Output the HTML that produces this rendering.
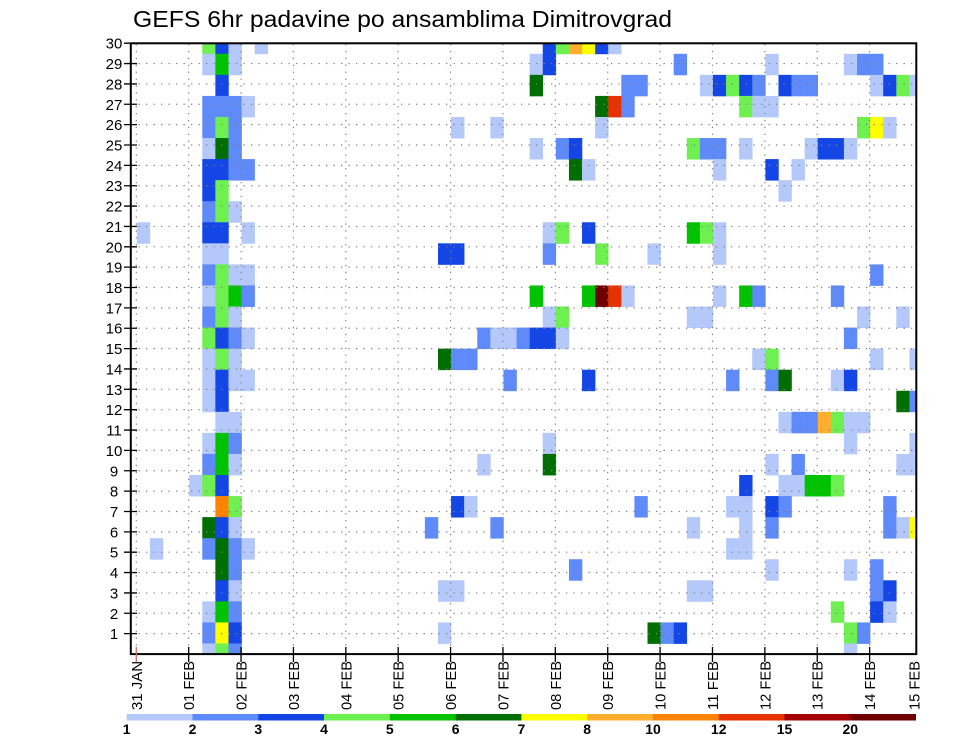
<!DOCTYPE html>
<html><head><meta charset="utf-8"><style>
html,body{margin:0;padding:0;background:#fff;}
svg{display:block;}
.a{fill:#b4c8fa}.b{fill:#5f8afa}.c{fill:#1446e6}.d{fill:#6ef050}.e{fill:#00c300}.f{fill:#006e00}
.g{fill:#ffff00}.h{fill:#ffaf2d}.i{fill:#ff8200}.j{fill:#e63200}.k{fill:#a50000}.l{fill:#6e0000}
text{font-family:"Liberation Sans",Arial,sans-serif;fill:#000;}
</style></head><body>
<svg width="960" height="742" viewBox="0 0 960 742" xmlns="http://www.w3.org/2000/svg">
<defs><clipPath id="pc"><rect x="131.5" y="43.3" width="784.5" height="610.7"/></clipPath></defs>
<rect width="960" height="742" fill="#fff"/>
<text x="133" y="27" font-size="23" textLength="539" lengthAdjust="spacingAndGlyphs">GEFS 6hr padavine po ansamblima Dimitrovgrad</text>

<g clip-path="url(#pc)">
<g transform="translate(136.8 643.47) scale(13.095 21.06)">
<!-- R29 -->
<rect class="d" x="5" y="-29" width="1.02" height="1.02"/><rect class="c" x="6" y="-29" width="1.02" height="1.02"/><rect class="a" x="7" y="-29" width="1.02" height="1.02"/><rect class="a" x="9" y="-29" width="1.02" height="1.02"/><rect class="c" x="31" y="-29" width="1.02" height="1.02"/><rect class="d" x="32" y="-29" width="1.02" height="1.02"/><rect class="h" x="33" y="-29" width="1.02" height="1.02"/><rect class="g" x="34" y="-29" width="1.02" height="1.02"/><rect class="c" x="35" y="-29" width="1.02" height="1.02"/><rect class="a" x="36" y="-29" width="1.02" height="1.02"/>
<!-- R28 -->
<rect class="a" x="5" y="-28" width="1.02" height="1.02"/><rect class="e" x="6" y="-28" width="1.02" height="1.02"/><rect class="a" x="7" y="-28" width="1.02" height="1.02"/><rect class="a" x="30" y="-28" width="1.02" height="1.02"/><rect class="c" x="31" y="-28" width="1.02" height="1.02"/><rect class="b" x="41" y="-28" width="1.02" height="1.02"/><rect class="a" x="48" y="-28" width="1.02" height="1.02"/><rect class="a" x="54" y="-28" width="1.02" height="1.02"/><rect class="b" x="55" y="-28" width="1.02" height="1.02"/><rect class="b" x="56" y="-28" width="1.02" height="1.02"/>
<!-- R27 -->
<rect class="c" x="6" y="-27" width="1.02" height="1.02"/><rect class="f" x="30" y="-27" width="1.02" height="1.02"/><rect class="b" x="37" y="-27" width="1.02" height="1.02"/><rect class="b" x="38" y="-27" width="1.02" height="1.02"/><rect class="a" x="43" y="-27" width="1.02" height="1.02"/><rect class="c" x="44" y="-27" width="1.02" height="1.02"/><rect class="d" x="45" y="-27" width="1.02" height="1.02"/><rect class="c" x="46" y="-27" width="1.02" height="1.02"/><rect class="b" x="47" y="-27" width="1.02" height="1.02"/><rect class="c" x="49" y="-27" width="1.02" height="1.02"/><rect class="b" x="50" y="-27" width="1.02" height="1.02"/><rect class="b" x="51" y="-27" width="1.02" height="1.02"/><rect class="a" x="56" y="-27" width="1.02" height="1.02"/><rect class="c" x="57" y="-27" width="1.02" height="1.02"/><rect class="d" x="58" y="-27" width="1.02" height="1.02"/><rect class="a" x="59" y="-27" width="1.02" height="1.02"/>
<!-- R26 -->
<rect class="b" x="5" y="-26" width="1.02" height="1.02"/><rect class="b" x="6" y="-26" width="1.02" height="1.02"/><rect class="b" x="7" y="-26" width="1.02" height="1.02"/><rect class="a" x="8" y="-26" width="1.02" height="1.02"/><rect class="f" x="35" y="-26" width="1.02" height="1.02"/><rect class="j" x="36" y="-26" width="1.02" height="1.02"/><rect class="b" x="37" y="-26" width="1.02" height="1.02"/><rect class="d" x="46" y="-26" width="1.02" height="1.02"/><rect class="a" x="47" y="-26" width="1.02" height="1.02"/><rect class="a" x="48" y="-26" width="1.02" height="1.02"/>
<!-- R25 -->
<rect class="b" x="5" y="-25" width="1.02" height="1.02"/><rect class="d" x="6" y="-25" width="1.02" height="1.02"/><rect class="b" x="7" y="-25" width="1.02" height="1.02"/><rect class="a" x="24" y="-25" width="1.02" height="1.02"/><rect class="a" x="27" y="-25" width="1.02" height="1.02"/><rect class="a" x="35" y="-25" width="1.02" height="1.02"/><rect class="d" x="55" y="-25" width="1.02" height="1.02"/><rect class="g" x="56" y="-25" width="1.02" height="1.02"/><rect class="a" x="57" y="-25" width="1.02" height="1.02"/>
<!-- R24 -->
<rect class="a" x="5" y="-24" width="1.02" height="1.02"/><rect class="f" x="6" y="-24" width="1.02" height="1.02"/><rect class="b" x="7" y="-24" width="1.02" height="1.02"/><rect class="a" x="30" y="-24" width="1.02" height="1.02"/><rect class="b" x="32" y="-24" width="1.02" height="1.02"/><rect class="c" x="33" y="-24" width="1.02" height="1.02"/><rect class="d" x="42" y="-24" width="1.02" height="1.02"/><rect class="b" x="43" y="-24" width="1.02" height="1.02"/><rect class="b" x="44" y="-24" width="1.02" height="1.02"/><rect class="a" x="46" y="-24" width="1.02" height="1.02"/><rect class="a" x="51" y="-24" width="1.02" height="1.02"/><rect class="c" x="52" y="-24" width="1.02" height="1.02"/><rect class="c" x="53" y="-24" width="1.02" height="1.02"/><rect class="a" x="54" y="-24" width="1.02" height="1.02"/>
<!-- R23 -->
<rect class="c" x="5" y="-23" width="1.02" height="1.02"/><rect class="c" x="6" y="-23" width="1.02" height="1.02"/><rect class="b" x="7" y="-23" width="1.02" height="1.02"/><rect class="b" x="8" y="-23" width="1.02" height="1.02"/><rect class="f" x="33" y="-23" width="1.02" height="1.02"/><rect class="a" x="34" y="-23" width="1.02" height="1.02"/><rect class="a" x="44" y="-23" width="1.02" height="1.02"/><rect class="c" x="48" y="-23" width="1.02" height="1.02"/><rect class="a" x="50" y="-23" width="1.02" height="1.02"/>
<!-- R22 -->
<rect class="c" x="5" y="-22" width="1.02" height="1.02"/><rect class="d" x="6" y="-22" width="1.02" height="1.02"/><rect class="a" x="49" y="-22" width="1.02" height="1.02"/>
<!-- R21 -->
<rect class="b" x="5" y="-21" width="1.02" height="1.02"/><rect class="d" x="6" y="-21" width="1.02" height="1.02"/><rect class="a" x="7" y="-21" width="1.02" height="1.02"/>
<!-- R20 -->
<rect class="a" x="0" y="-20" width="1.02" height="1.02"/><rect class="c" x="5" y="-20" width="1.02" height="1.02"/><rect class="c" x="6" y="-20" width="1.02" height="1.02"/><rect class="a" x="8" y="-20" width="1.02" height="1.02"/><rect class="a" x="31" y="-20" width="1.02" height="1.02"/><rect class="d" x="32" y="-20" width="1.02" height="1.02"/><rect class="c" x="34" y="-20" width="1.02" height="1.02"/><rect class="e" x="42" y="-20" width="1.02" height="1.02"/><rect class="d" x="43" y="-20" width="1.02" height="1.02"/><rect class="a" x="44" y="-20" width="1.02" height="1.02"/>
<!-- R19 -->
<rect class="a" x="5" y="-19" width="1.02" height="1.02"/><rect class="a" x="6" y="-19" width="1.02" height="1.02"/><rect class="c" x="23" y="-19" width="1.02" height="1.02"/><rect class="c" x="24" y="-19" width="1.02" height="1.02"/><rect class="b" x="31" y="-19" width="1.02" height="1.02"/><rect class="d" x="35" y="-19" width="1.02" height="1.02"/><rect class="a" x="39" y="-19" width="1.02" height="1.02"/><rect class="a" x="44" y="-19" width="1.02" height="1.02"/>
<!-- R18 -->
<rect class="b" x="5" y="-18" width="1.02" height="1.02"/><rect class="d" x="6" y="-18" width="1.02" height="1.02"/><rect class="a" x="7" y="-18" width="1.02" height="1.02"/><rect class="a" x="8" y="-18" width="1.02" height="1.02"/><rect class="b" x="56" y="-18" width="1.02" height="1.02"/>
<!-- R17 -->
<rect class="a" x="5" y="-17" width="1.02" height="1.02"/><rect class="d" x="6" y="-17" width="1.02" height="1.02"/><rect class="e" x="7" y="-17" width="1.02" height="1.02"/><rect class="b" x="8" y="-17" width="1.02" height="1.02"/><rect class="e" x="30" y="-17" width="1.02" height="1.02"/><rect class="e" x="34" y="-17" width="1.02" height="1.02"/><rect class="l" x="35" y="-17" width="1.02" height="1.02"/><rect class="j" x="36" y="-17" width="1.02" height="1.02"/><rect class="a" x="37" y="-17" width="1.02" height="1.02"/><rect class="a" x="44" y="-17" width="1.02" height="1.02"/><rect class="e" x="46" y="-17" width="1.02" height="1.02"/><rect class="b" x="47" y="-17" width="1.02" height="1.02"/><rect class="b" x="53" y="-17" width="1.02" height="1.02"/>
<!-- R16 -->
<rect class="b" x="5" y="-16" width="1.02" height="1.02"/><rect class="d" x="6" y="-16" width="1.02" height="1.02"/><rect class="a" x="7" y="-16" width="1.02" height="1.02"/><rect class="a" x="31" y="-16" width="1.02" height="1.02"/><rect class="d" x="32" y="-16" width="1.02" height="1.02"/><rect class="a" x="42" y="-16" width="1.02" height="1.02"/><rect class="a" x="43" y="-16" width="1.02" height="1.02"/><rect class="a" x="55" y="-16" width="1.02" height="1.02"/><rect class="a" x="58" y="-16" width="1.02" height="1.02"/>
<!-- R15 -->
<rect class="d" x="5" y="-15" width="1.02" height="1.02"/><rect class="c" x="6" y="-15" width="1.02" height="1.02"/><rect class="b" x="7" y="-15" width="1.02" height="1.02"/><rect class="a" x="8" y="-15" width="1.02" height="1.02"/><rect class="b" x="26" y="-15" width="1.02" height="1.02"/><rect class="a" x="27" y="-15" width="1.02" height="1.02"/><rect class="a" x="28" y="-15" width="1.02" height="1.02"/><rect class="b" x="29" y="-15" width="1.02" height="1.02"/><rect class="c" x="30" y="-15" width="1.02" height="1.02"/><rect class="c" x="31" y="-15" width="1.02" height="1.02"/><rect class="a" x="32" y="-15" width="1.02" height="1.02"/><rect class="b" x="54" y="-15" width="1.02" height="1.02"/>
<!-- R14 -->
<rect class="a" x="5" y="-14" width="1.02" height="1.02"/><rect class="d" x="6" y="-14" width="1.02" height="1.02"/><rect class="a" x="7" y="-14" width="1.02" height="1.02"/><rect class="f" x="23" y="-14" width="1.02" height="1.02"/><rect class="b" x="24" y="-14" width="1.02" height="1.02"/><rect class="b" x="25" y="-14" width="1.02" height="1.02"/><rect class="a" x="47" y="-14" width="1.02" height="1.02"/><rect class="d" x="48" y="-14" width="1.02" height="1.02"/><rect class="a" x="56" y="-14" width="1.02" height="1.02"/><rect class="a" x="59" y="-14" width="1.02" height="1.02"/>
<!-- R13 -->
<rect class="a" x="5" y="-13" width="1.02" height="1.02"/><rect class="c" x="6" y="-13" width="1.02" height="1.02"/><rect class="a" x="7" y="-13" width="1.02" height="1.02"/><rect class="a" x="8" y="-13" width="1.02" height="1.02"/><rect class="b" x="28" y="-13" width="1.02" height="1.02"/><rect class="c" x="34" y="-13" width="1.02" height="1.02"/><rect class="b" x="45" y="-13" width="1.02" height="1.02"/><rect class="b" x="48" y="-13" width="1.02" height="1.02"/><rect class="f" x="49" y="-13" width="1.02" height="1.02"/><rect class="a" x="53" y="-13" width="1.02" height="1.02"/><rect class="c" x="54" y="-13" width="1.02" height="1.02"/>
<!-- R12 -->
<rect class="a" x="5" y="-12" width="1.02" height="1.02"/><rect class="c" x="6" y="-12" width="1.02" height="1.02"/><rect class="f" x="58" y="-12" width="1.02" height="1.02"/><rect class="b" x="59" y="-12" width="1.02" height="1.02"/>
<!-- R11 -->
<rect class="a" x="6" y="-11" width="1.02" height="1.02"/><rect class="a" x="7" y="-11" width="1.02" height="1.02"/><rect class="a" x="49" y="-11" width="1.02" height="1.02"/><rect class="b" x="50" y="-11" width="1.02" height="1.02"/><rect class="b" x="51" y="-11" width="1.02" height="1.02"/><rect class="h" x="52" y="-11" width="1.02" height="1.02"/><rect class="d" x="53" y="-11" width="1.02" height="1.02"/><rect class="a" x="54" y="-11" width="1.02" height="1.02"/><rect class="a" x="55" y="-11" width="1.02" height="1.02"/>
<!-- R10 -->
<rect class="a" x="5" y="-10" width="1.02" height="1.02"/><rect class="e" x="6" y="-10" width="1.02" height="1.02"/><rect class="b" x="7" y="-10" width="1.02" height="1.02"/><rect class="a" x="31" y="-10" width="1.02" height="1.02"/><rect class="a" x="54" y="-10" width="1.02" height="1.02"/><rect class="a" x="59" y="-10" width="1.02" height="1.02"/>
<!-- R9 -->
<rect class="b" x="5" y="-9" width="1.02" height="1.02"/><rect class="e" x="6" y="-9" width="1.02" height="1.02"/><rect class="a" x="7" y="-9" width="1.02" height="1.02"/><rect class="a" x="26" y="-9" width="1.02" height="1.02"/><rect class="f" x="31" y="-9" width="1.02" height="1.02"/><rect class="a" x="48" y="-9" width="1.02" height="1.02"/><rect class="b" x="50" y="-9" width="1.02" height="1.02"/><rect class="a" x="58" y="-9" width="1.02" height="1.02"/><rect class="a" x="59" y="-9" width="1.02" height="1.02"/>
<!-- R8 -->
<rect class="a" x="4" y="-8" width="1.02" height="1.02"/><rect class="d" x="5" y="-8" width="1.02" height="1.02"/><rect class="c" x="6" y="-8" width="1.02" height="1.02"/><rect class="c" x="46" y="-8" width="1.02" height="1.02"/><rect class="a" x="49" y="-8" width="1.02" height="1.02"/><rect class="a" x="50" y="-8" width="1.02" height="1.02"/><rect class="e" x="51" y="-8" width="1.02" height="1.02"/><rect class="e" x="52" y="-8" width="1.02" height="1.02"/><rect class="d" x="53" y="-8" width="1.02" height="1.02"/>
<!-- R7 -->
<rect class="i" x="6" y="-7" width="1.02" height="1.02"/><rect class="d" x="7" y="-7" width="1.02" height="1.02"/><rect class="c" x="24" y="-7" width="1.02" height="1.02"/><rect class="a" x="25" y="-7" width="1.02" height="1.02"/><rect class="b" x="38" y="-7" width="1.02" height="1.02"/><rect class="a" x="45" y="-7" width="1.02" height="1.02"/><rect class="a" x="46" y="-7" width="1.02" height="1.02"/><rect class="c" x="48" y="-7" width="1.02" height="1.02"/><rect class="b" x="49" y="-7" width="1.02" height="1.02"/><rect class="b" x="57" y="-7" width="1.02" height="1.02"/>
<!-- R6 -->
<rect class="f" x="5" y="-6" width="1.02" height="1.02"/><rect class="c" x="6" y="-6" width="1.02" height="1.02"/><rect class="a" x="7" y="-6" width="1.02" height="1.02"/><rect class="b" x="22" y="-6" width="1.02" height="1.02"/><rect class="b" x="27" y="-6" width="1.02" height="1.02"/><rect class="a" x="42" y="-6" width="1.02" height="1.02"/><rect class="a" x="46" y="-6" width="1.02" height="1.02"/><rect class="b" x="48" y="-6" width="1.02" height="1.02"/><rect class="b" x="57" y="-6" width="1.02" height="1.02"/><rect class="a" x="58" y="-6" width="1.02" height="1.02"/><rect class="g" x="59" y="-6" width="1.02" height="1.02"/>
<!-- R5 -->
<rect class="a" x="1" y="-5" width="1.02" height="1.02"/><rect class="b" x="5" y="-5" width="1.02" height="1.02"/><rect class="f" x="6" y="-5" width="1.02" height="1.02"/><rect class="b" x="7" y="-5" width="1.02" height="1.02"/><rect class="a" x="8" y="-5" width="1.02" height="1.02"/><rect class="a" x="45" y="-5" width="1.02" height="1.02"/><rect class="a" x="46" y="-5" width="1.02" height="1.02"/>
<!-- R4 -->
<rect class="f" x="6" y="-4" width="1.02" height="1.02"/><rect class="b" x="7" y="-4" width="1.02" height="1.02"/><rect class="b" x="33" y="-4" width="1.02" height="1.02"/><rect class="a" x="48" y="-4" width="1.02" height="1.02"/><rect class="a" x="54" y="-4" width="1.02" height="1.02"/><rect class="b" x="56" y="-4" width="1.02" height="1.02"/>
<!-- R3 -->
<rect class="c" x="6" y="-3" width="1.02" height="1.02"/><rect class="a" x="7" y="-3" width="1.02" height="1.02"/><rect class="a" x="23" y="-3" width="1.02" height="1.02"/><rect class="a" x="24" y="-3" width="1.02" height="1.02"/><rect class="a" x="42" y="-3" width="1.02" height="1.02"/><rect class="a" x="43" y="-3" width="1.02" height="1.02"/><rect class="b" x="56" y="-3" width="1.02" height="1.02"/><rect class="c" x="57" y="-3" width="1.02" height="1.02"/>
<!-- R2 -->
<rect class="a" x="5" y="-2" width="1.02" height="1.02"/><rect class="e" x="6" y="-2" width="1.02" height="1.02"/><rect class="b" x="7" y="-2" width="1.02" height="1.02"/><rect class="d" x="53" y="-2" width="1.02" height="1.02"/><rect class="c" x="56" y="-2" width="1.02" height="1.02"/><rect class="a" x="57" y="-2" width="1.02" height="1.02"/>
<!-- R1 -->
<rect class="b" x="5" y="-1" width="1.02" height="1.02"/><rect class="g" x="6" y="-1" width="1.02" height="1.02"/><rect class="c" x="7" y="-1" width="1.02" height="1.02"/><rect class="a" x="23" y="-1" width="1.02" height="1.02"/><rect class="f" x="39" y="-1" width="1.02" height="1.02"/><rect class="b" x="40" y="-1" width="1.02" height="1.02"/><rect class="c" x="41" y="-1" width="1.02" height="1.02"/><rect class="d" x="54" y="-1" width="1.02" height="1.02"/><rect class="b" x="55" y="-1" width="1.02" height="1.02"/>
<!-- R0 -->
<rect class="a" x="5" y="0" width="1.02" height="1.02"/><rect class="d" x="6" y="0" width="1.02" height="1.02"/><rect class="b" x="7" y="0" width="1.02" height="1.02"/><rect class="a" x="54" y="0" width="1.02" height="1.02"/>
</g>

<!-- dotted grid -->
<path fill="none" stroke="#808080" stroke-width="1.2" stroke-dasharray="1.3 6.2" d="
M131 633.64H916 M131 613.28H916 M131 592.92H916 M131 572.56H916 M131 552.2H916 M131 531.84H916 M131 511.48H916 M131 491.12H916 M131 470.76H916 M131 450.4H916
M131 430.04H916 M131 409.68H916 M131 389.32H916 M131 368.96H916 M131 348.6H916 M131 328.24H916 M131 307.88H916 M131 287.52H916 M131 267.16H916 M131 246.8H916
M131 226.44H916 M131 206.08H916 M131 185.72H916 M131 165.36H916 M131 145H916 M131 124.64H916 M131 104.28H916 M131 83.92H916 M131 63.56H916"/>
<path fill="none" stroke="#808080" stroke-width="1.2" stroke-dasharray="1.3 5.6" d="
M136.3 44V654 M188.68 44V654 M241.06 44V654 M293.44 44V654 M345.82 44V654 M398.2 44V654 M450.58 44V654 M502.96 44V654
M555.34 44V654 M607.72 44V654 M660.1 44V654 M712.48 44V654 M764.86 44V654 M817.24 44V654 M869.62 44V654"/>
</g>

<!-- frame -->
<rect x="130.8" y="43.3" width="785.5" height="610.8" fill="none" stroke="#000" stroke-width="2"/>

<!-- y ticks -->
<path fill="none" stroke="#000" stroke-width="1.3" d="
M124 633.64H137 M124 613.28H137 M124 592.92H137 M124 572.56H137 M124 552.2H137 M124 531.84H137 M124 511.48H137 M124 491.12H137 M124 470.76H137 M124 450.4H137
M124 430.04H137 M124 409.68H137 M124 389.32H137 M124 368.96H137 M124 348.6H137 M124 328.24H137 M124 307.88H137 M124 287.52H137 M124 267.16H137 M124 246.8H137
M124 226.44H137 M124 206.08H137 M124 185.72H137 M124 165.36H137 M124 145H137 M124 124.64H137 M124 104.28H137 M124 83.92H137 M124 63.56H137 M124 43.2H137"/>
<!-- x ticks -->
<path fill="none" stroke="#000" stroke-width="1.3" d="
M188.68 647V662 M241.06 647V662 M293.44 647V662 M345.82 647V662 M398.2 647V662 M450.58 647V662 M502.96 647V662
M555.34 647V662 M607.72 647V662 M660.1 647V662 M712.48 647V662 M764.86 647V662 M817.24 647V662 M869.62 647V662"/>
<path fill="none" stroke="#d07070" stroke-width="1.3" d="M136.3 647V662"/>

<!-- y labels -->
<g font-size="15" text-anchor="middle">
<text x="114" y="639.1">1</text><text x="114" y="618.8">2</text><text x="114" y="598.4">3</text><text x="114" y="578.1">4</text><text x="114" y="557.7">5</text>
<text x="114" y="537.3">6</text><text x="114" y="517">7</text><text x="114" y="496.6">8</text><text x="114" y="476.3">9</text><text x="114" y="455.9">10</text>
<text x="114" y="435.5">11</text><text x="114" y="415.2">12</text><text x="114" y="394.8">13</text><text x="114" y="374.5">14</text><text x="114" y="354.1">15</text>
<text x="114" y="333.7">16</text><text x="114" y="313.4">17</text><text x="114" y="293">18</text><text x="114" y="272.7">19</text><text x="114" y="252.3">20</text>
<text x="114" y="231.9">21</text><text x="114" y="211.6">22</text><text x="114" y="191.2">23</text><text x="114" y="170.9">24</text><text x="114" y="150.5">25</text>
<text x="114" y="130.1">26</text><text x="114" y="109.8">27</text><text x="114" y="89.4">28</text><text x="114" y="69.1">29</text><text x="114" y="48.7">30</text>
</g>

<!-- x labels -->
<g font-size="15" text-anchor="end">
<text transform="translate(141.8 661) rotate(-90)" textLength="49" lengthAdjust="spacingAndGlyphs">31 JAN</text>
<text transform="translate(194.2 661) rotate(-90)" textLength="49" lengthAdjust="spacingAndGlyphs">01 FEB</text>
<text transform="translate(246.6 661) rotate(-90)" textLength="49" lengthAdjust="spacingAndGlyphs">02 FEB</text>
<text transform="translate(298.9 661) rotate(-90)" textLength="49" lengthAdjust="spacingAndGlyphs">03 FEB</text>
<text transform="translate(351.3 661) rotate(-90)" textLength="49" lengthAdjust="spacingAndGlyphs">04 FEB</text>
<text transform="translate(403.7 661) rotate(-90)" textLength="49" lengthAdjust="spacingAndGlyphs">05 FEB</text>
<text transform="translate(456.1 661) rotate(-90)" textLength="49" lengthAdjust="spacingAndGlyphs">06 FEB</text>
<text transform="translate(508.5 661) rotate(-90)" textLength="49" lengthAdjust="spacingAndGlyphs">07 FEB</text>
<text transform="translate(560.8 661) rotate(-90)" textLength="49" lengthAdjust="spacingAndGlyphs">08 FEB</text>
<text transform="translate(613.2 661) rotate(-90)" textLength="49" lengthAdjust="spacingAndGlyphs">09 FEB</text>
<text transform="translate(665.6 661) rotate(-90)" textLength="49" lengthAdjust="spacingAndGlyphs">10 FEB</text>
<text transform="translate(718 661) rotate(-90)" textLength="49" lengthAdjust="spacingAndGlyphs">11 FEB</text>
<text transform="translate(770.4 661) rotate(-90)" textLength="49" lengthAdjust="spacingAndGlyphs">12 FEB</text>
<text transform="translate(822.7 661) rotate(-90)" textLength="49" lengthAdjust="spacingAndGlyphs">13 FEB</text>
<text transform="translate(875.1 661) rotate(-90)" textLength="49" lengthAdjust="spacingAndGlyphs">14 FEB</text>
<text transform="translate(919.5 661) rotate(-90)" textLength="49" lengthAdjust="spacingAndGlyphs">15 FEB</text>
</g>

<!-- colorbar -->
<g>
<rect class="a" x="126.7" y="714" width="66" height="6.5"/>
<rect class="b" x="192.5" y="714" width="66" height="6.5"/>
<rect class="c" x="258.3" y="714" width="66" height="6.5"/>
<rect class="d" x="324" y="714" width="66" height="6.5"/>
<rect class="e" x="389.8" y="714" width="66" height="6.5"/>
<rect class="f" x="455.6" y="714" width="66" height="6.5"/>
<rect class="g" x="521.4" y="714" width="66" height="6.5"/>
<rect class="h" x="587.2" y="714" width="66" height="6.5"/>
<rect class="i" x="653" y="714" width="66" height="6.5"/>
<rect class="j" x="718.7" y="714" width="66" height="6.5"/>
<rect class="k" x="784.5" y="714" width="66" height="6.5"/>
<rect class="l" x="850.3" y="714" width="65.7" height="6.5"/>
</g>
<g font-size="14" font-weight="bold" text-anchor="middle">
<text x="126.7" y="734">1</text><text x="192.5" y="734">2</text><text x="258.3" y="734">3</text><text x="324" y="734">4</text>
<text x="389.8" y="734">5</text><text x="455.6" y="734">6</text><text x="521.4" y="734">7</text><text x="587.2" y="734">8</text>
<text x="653" y="734">10</text><text x="718.7" y="734">12</text><text x="784.5" y="734">15</text><text x="850.3" y="734">20</text>
</g>
</svg>
</body></html>
